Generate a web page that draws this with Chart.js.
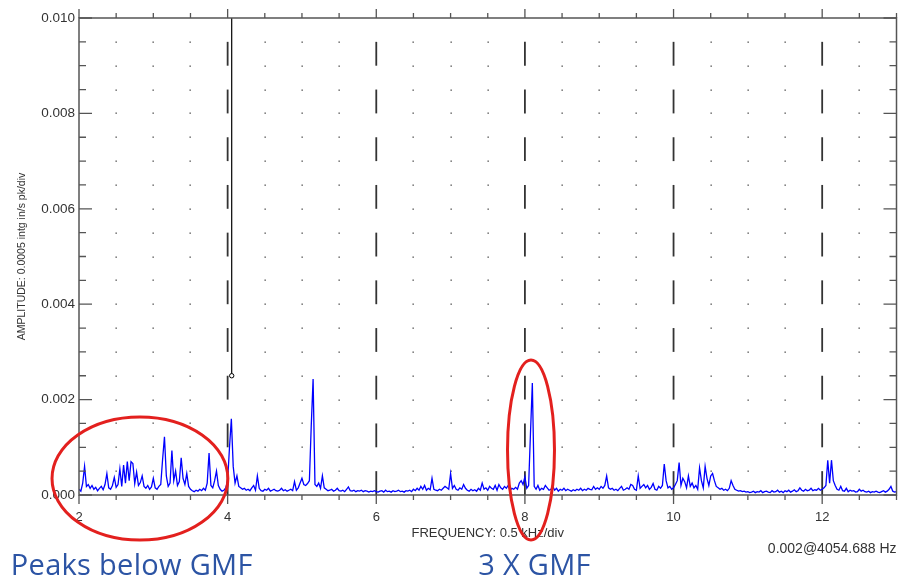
<!DOCTYPE html>
<html>
<head>
<meta charset="utf-8">
<title>Spectrum - 3 X GMF</title>
<script src="https://cdn.jsdelivr.net/npm/chart.js@4.4.1/dist/chart.umd.min.js"></script>
<style>
  html, body { margin: 0; padding: 0; background: #fff; }
  #wrap { position: relative; width: 898px; height: 581px; }
</style>
</head>
<body>
<div id="wrap"><canvas id="spectrum" width="898" height="581"></canvas></div>
<script>
// frequency bins (kHz)
const freqStart = 2.0;
const freqStep = 0.025;

// amplitude per bin, in units of 0.00001 in/s
const amplitude = [
  // 2 kHz
  12, 8, 25, 60, 18, 22, 14, 20, 12, 16, 9, 14, 18, 11, 22, 45, 15, 12, 20, 37,
  16, 22, 55, 18, 63, 25, 70, 30, 70, 66, 24, 48, 20, 26, 40, 18, 14, 20, 12, 17,
  // 3 kHz
  35, 15, 12, 18, 22, 75, 122, 40, 18, 25, 93, 30, 50, 20, 28, 78, 35, 22, 45, 18,
  12, 9, 7, 10, 8, 12, 9, 14, 10, 25, 88, 20, 15, 30, 50, 20, 12, 8, 10, 15,
  // 4 kHz
  30, 100, 160, 60, 25, 40, 18, 15, 12, 14, 10, 12, 9, 15, 20, 10, 40, 14, 9, 8,
  12, 10, 14, 8, 10, 12, 9, 8, 10, 14, 9, 11, 8, 10, 12, 9, 28, 10, 15, 25,
  // 5 kHz
  35, 22, 20, 24, 30, 145, 243, 22, 18, 25, 14, 40, 15, 12, 9, 10, 12, 8, 10, 14,
  9, 8, 10, 7, 12, 17, 9, 8, 10, 7, 9, 8, 10, 7, 9, 8, 6, 8, 7, 9,
  // 6 kHz
  7, 6, 8, 9, 6, 10, 7, 8, 6, 9, 7, 8, 10, 7, 8, 6, 9, 8, 10, 7,
  12, 9, 14, 10, 18, 12, 20, 10, 14, 11, 35, 12, 10, 9, 12, 10, 14, 18, 15, 12,
  // 7 kHz
  45, 14, 20, 12, 10, 15, 12, 22, 14, 10, 8, 12, 9, 11, 8, 14, 10, 25, 12, 15,
  10, 18, 14, 12, 20, 10, 22, 15, 12, 18, 14, 20, 10, 14, 12, 16, 12, 25, 30, 22,
  // 8 kHz
  38, 14, 20, 130, 235, 18, 12, 20, 10, 14, 12, 20, 15, 10, 12, 18, 10, 14, 8, 12,
  10, 14, 9, 12, 10, 8, 11, 9, 12, 10, 14, 9, 12, 10, 14, 12, 11, 18, 12, 15,
  // 9 kHz
  12, 18, 14, 20, 40, 15, 12, 14, 10, 12, 9, 14, 18, 10, 12, 15, 12, 22, 20, 12,
  10, 40, 14, 18, 22, 15, 20, 12, 16, 24, 12, 10, 18, 14, 20, 65, 30, 15, 18, 12,
  // 10 kHz
  15, 22, 30, 68, 20, 35, 28, 15, 40, 18, 25, 15, 20, 12, 57, 30, 15, 60, 35, 20,
  40, 45, 30, 18, 15, 12, 14, 10, 12, 9, 14, 30, 20, 12, 10, 8, 9, 7, 8, 6,
  // 11 kHz
  7, 5, 6, 8, 5, 7, 6, 9, 5, 7, 8, 6, 5, 9, 6, 7, 10, 6, 8, 5,
  9, 7, 10, 6, 8, 11, 7, 9, 15, 10, 8, 12, 9, 10, 14, 9, 11, 10, 14, 10,
  // 12 kHz .. 13 kHz
  12, 15, 20, 73, 25, 73, 30, 20, 12, 10, 18, 9, 8, 14, 7, 10, 8, 9, 6, 7,
  12, 8, 10, 7, 6, 8, 5, 7, 6, 8, 6, 5, 7, 9, 6, 8, 12, 18, 8, 6,
  7
];

// axes
const freqMin = 2, freqMax = 13, freqDiv = 0.5, freqLabelEvery = 2;
const ampMin = 0, ampMax = 0.010, ampDiv = 0.0005, ampLabelEvery = 0.002;

// cursor readout
const cursorFreq = 4.054688;
const cursorLevel = 0.0025;
const cursorText = '0.002@4054.688 Hz';

// red rings: centre and half sizes in kHz / in/s
const rings = [
  { freq: 2.82, amp: 0.000346, halfFreq: 1.183, halfAmp: 0.00129 },
  { freq: 8.082, amp: 0.000943, halfFreq: 0.316, halfAmp: 0.001887 }
];
const notes = [
  { text: 'Peaks below GMF', freq: 2.71 },
  { text: '3 X GMF', freq: 8.13 }
];

const spectrum = amplitude.map((a, i) => ({ x: freqStart + i * freqStep, y: a / 100000 }));

const near = (v, step) => Math.abs(v / step - Math.round(v / step)) < 1e-6;
const isMajorX = v => near(v, freqLabelEvery);
const isMajorY = v => near(v, ampLabelEvery);

const FONT = 'Arial, "Liberation Sans", sans-serif';
const FRAME = '#555';

const scopeFrame = {
  id: 'scopeFrame',
  beforeDatasetsDraw(chart) {
    const { ctx, chartArea: a, scales: { x, y } } = chart;
    const xv = x.ticks.map(t => t.value);
    const yv = y.ticks.map(t => t.value).sort((p, q) => p - q);
    ctx.save();
    // dotted minor grid
    ctx.fillStyle = '#444';
    xv.forEach(v => {
      if (isMajorX(v)) return;
      const px = Math.round(x.getPixelForValue(v));
      yv.forEach(w => {
        const py = Math.round(y.getPixelForValue(w));
        if (px > a.left + 2 && px < a.right - 2 && py > a.top + 2 && py < a.bottom - 2) {
          ctx.fillRect(px - 0.5, py - 0.5, 1.3, 1.3);
        }
      });
    });
    // dashed major verticals, one dash per pair of divisions
    ctx.strokeStyle = '#333';
    ctx.lineWidth = 1.8;
    xv.forEach(v => {
      if (!isMajorX(v) || v <= freqMin || v >= freqMax) return;
      const px = x.getPixelForValue(v);
      for (let k = 0; k + 1 < yv.length; k += 2) {
        ctx.beginPath();
        ctx.moveTo(px, y.getPixelForValue(yv[k]));
        ctx.lineTo(px, y.getPixelForValue(yv[k + 1]));
        ctx.stroke();
      }
    });
    ctx.restore();
  },
  afterDatasetsDraw(chart) {
    const { ctx, chartArea: a, scales: { x, y } } = chart;
    ctx.save();
    ctx.strokeStyle = FRAME;
    ctx.lineWidth = 1.5;
    ctx.strokeRect(a.left, a.top, a.right - a.left, a.bottom - a.top);
    ctx.lineWidth = 1.3;
    ctx.beginPath();
    x.ticks.forEach(t => {
      const px = x.getPixelForValue(t.value);
      const len = isMajorX(t.value) ? 9 : 5;
      ctx.moveTo(px, a.bottom); ctx.lineTo(px, a.bottom + len);
      ctx.moveTo(px, a.top); ctx.lineTo(px, a.top - len);
    });
    y.ticks.forEach(t => {
      const py = y.getPixelForValue(t.value);
      const len = isMajorY(t.value) ? 13 : 7;
      ctx.moveTo(a.left, py); ctx.lineTo(a.left + len, py);
      ctx.moveTo(a.right, py); ctx.lineTo(a.right - len, py);
    });
    ctx.stroke();
    ctx.restore();
  },
  afterDraw(chart) {
    const { ctx, chartArea: a, scales: { x, y } } = chart;
    ctx.save();
    // red rings
    ctx.strokeStyle = '#e3201e';
    ctx.lineWidth = 3;
    rings.forEach(r => {
      const cx = x.getPixelForValue(r.freq), cy = y.getPixelForValue(r.amp);
      const rx = Math.abs(x.getPixelForValue(r.freq + r.halfFreq) - cx);
      const ry = Math.abs(y.getPixelForValue(r.amp + r.halfAmp) - cy);
      ctx.beginPath();
      ctx.ellipse(cx, cy, rx, ry, 0, 0, Math.PI * 2);
      ctx.stroke();
    });
    // notes under the rings
    ctx.fillStyle = '#2c54a4';
    ctx.font = '29px "Open Sans", "Noto Sans", sans-serif';
    ctx.letterSpacing = '0.3px';
    ctx.textAlign = 'center';
    ctx.textBaseline = 'alphabetic';
    notes.forEach(n => ctx.fillText(n.text, x.getPixelForValue(n.freq), a.bottom + 80));
    // cursor readout
    ctx.letterSpacing = '0px';
    ctx.fillStyle = '#333';
    ctx.font = '14px ' + FONT;
    ctx.textAlign = 'right';
    ctx.fillText(cursorText, a.right, a.bottom + 58);
    ctx.restore();
  }
};

new Chart(document.getElementById('spectrum'), {
  type: 'line',
  data: {
    datasets: [
      {
        label: 'Cursor',
        data: [{ x: cursorFreq, y: ampMax }, { x: cursorFreq, y: cursorLevel }],
        borderColor: '#000',
        borderWidth: 1.2,
        pointRadius: [0, 2.2],
        pointBorderColor: '#000',
        pointBackgroundColor: '#fff',
        pointBorderWidth: 1,
        order: 0
      },
      {
        label: 'Amplitude',
        data: spectrum,
        borderColor: '#0000ff',
        borderWidth: 1.3,
        pointRadius: 0,
        tension: 0,
        order: 1
      }
    ]
  },
  options: {
    responsive: false,
    animation: false,
    layout: { autoPadding: false, padding: { top: 18, right: 1.5, left: 0, bottom: 0 } },
    plugins: { legend: { display: false }, tooltip: { enabled: false } },
    scales: {
      x: {
        type: 'linear',
        min: freqMin,
        max: freqMax,
        afterFit: s => { s.height = 86; s.paddingLeft = 0; s.paddingRight = 0; },
        grid: { display: false, drawTicks: false },
        border: { display: false },
        ticks: {
          stepSize: freqDiv,
          autoSkip: false,
          maxRotation: 0,
          maxTicksLimit: 100,
          padding: 15,
          color: '#333',
          font: { family: FONT, size: 13 },
          callback: v => (isMajorX(v) ? String(v) : '')
        },
        title: {
          display: true,
          text: 'FREQUENCY: 0.5 kHz/div',
          color: '#333',
          font: { family: FONT, size: 13 },
          padding: { top: 0, bottom: 40 }
        }
      },
      y: {
        min: ampMin,
        max: ampMax,
        afterFit: s => { s.width = 79; },
        grid: { display: false, drawTicks: false },
        border: { display: false },
        ticks: {
          stepSize: ampDiv,
          autoSkip: false,
          maxTicksLimit: 100,
          padding: 4,
          color: '#333',
          font: { family: FONT, size: 13.5 },
          callback: v => (isMajorY(v) ? v.toFixed(3) : '')
        },
        title: {
          display: true,
          text: 'AMPLITUDE: 0.0005 intg in/s pk/div',
          color: '#333',
          font: { family: FONT, size: 10.5 },
          padding: { top: 16, bottom: 0 }
        }
      }
    }
  },
  plugins: [scopeFrame]
});
</script>
</body>
</html>
